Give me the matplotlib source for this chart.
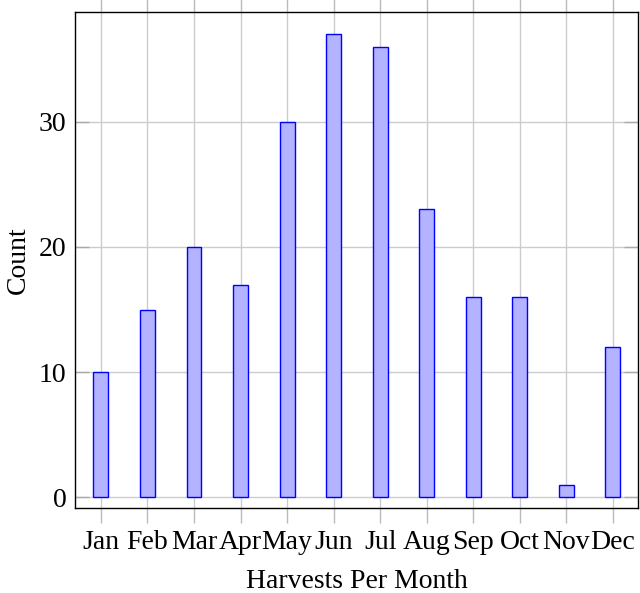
import matplotlib.pyplot as plt
import numpy as np

months = ["Jan", "Feb", "Mar", "Apr", "May", "Jun",
          "Jul", "Aug", "Sep", "Oct", "Nov", "Dec"]
harvests = [10, 15, 20, 17, 30, 37, 36, 23, 16, 16, 1, 12]
y_ticks = [0, 10, 20, 30]

plt.rcParams["font.family"] = ["Liberation Serif", "DejaVu Serif"]

fig = plt.figure(figsize=(6.4, 5.93), dpi=100)
ax = fig.add_axes([0.117, 0.1433, 0.88, 0.8365])

x = np.arange(len(months))
ax.bar(x, harvests, width=0.32, color="#b3b3ff", edgecolor="#0000ff",
       linewidth=1.0, zorder=3)

ax.set_xlim(-0.56, 11.54)
ax.set_ylim(-0.88, 38.8)
ax.set_xticks(x)
ax.set_xticklabels(months)
ax.set_yticks(y_ticks)

ax.grid(True, color="#cccccc", linewidth=1.0, zorder=0)
ax.tick_params(axis="x", direction="out", top=True, length=11,
               color="#bbbbbb", width=1.0, labelsize=20, pad=5)
ax.tick_params(axis="y", direction="in", right=True, length=10,
               color="#aaaaaa", width=1.0, labelsize=20, pad=6)
for s in ax.spines.values():
    s.set_linewidth(1.0)
    s.set_zorder(4)

ax.set_xlabel("Harvests Per Month", fontsize=20, labelpad=10)
ax.set_ylabel("Count", fontsize=20, labelpad=6)

fig.savefig("out.png", dpi=100)
